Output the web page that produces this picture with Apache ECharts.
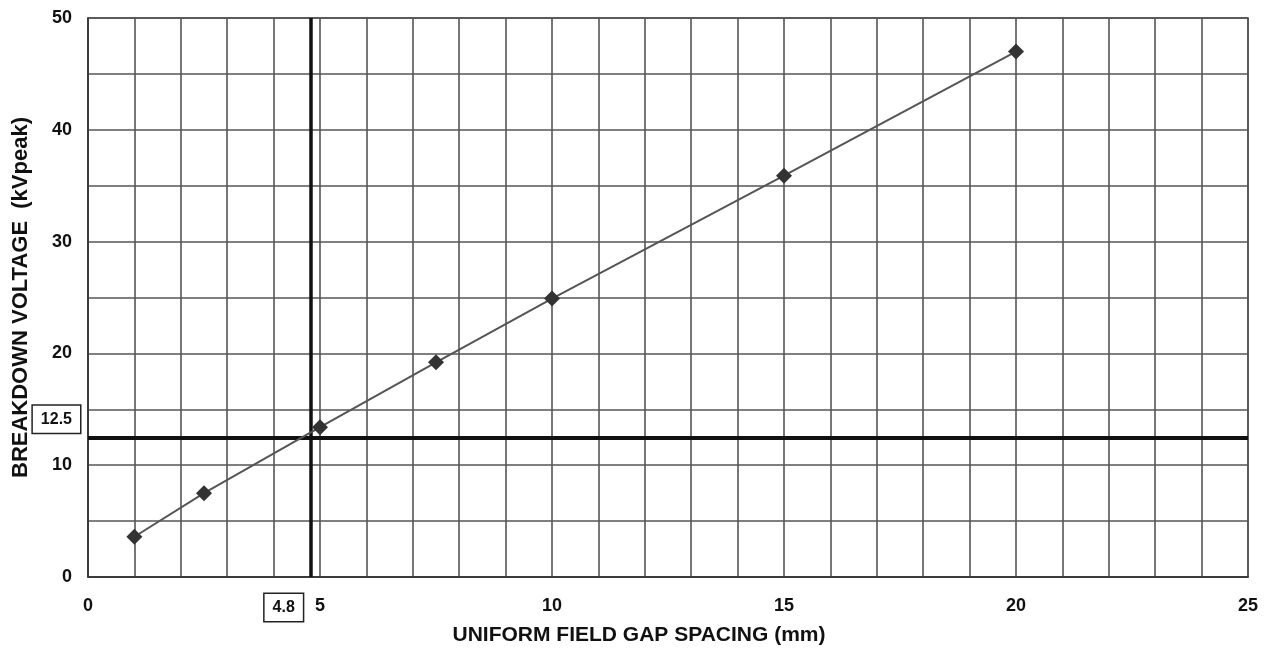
<!DOCTYPE html>
<html>
<head>
<meta charset="utf-8">
<script src="https://cdn.jsdelivr.net/npm/echarts@6/dist/echarts.min.js"></script>
<style>
  html, body { margin: 0; padding: 0; background: #fff; }
  #chart { width: 1273px; height: 653px; }
</style>
</head>
<body>
<div id="chart"></div>
<script>
// gap spacing (mm) and breakdown voltage (kVpeak)
const gapMm = [1, 2.5, 5, 7.5, 10, 15, 20];
const voltageKv = [3.6, 7.5, 13.4, 19.2, 24.9, 35.9, 47.0];

// reading lines drawn on the chart
const readVoltage = 12.5;
const readGap = 4.8;

const chart = echarts.init(document.getElementById('chart'));

const font = 'Liberation Sans, Arial, sans-serif';
const gridColor = '#555';

const boxLabel = {
  show: true,
  color: '#111',
  fontFamily: font,
  fontWeight: 'bold',
  fontSize: 16,
  backgroundColor: '#fff',
  borderColor: '#222',
  borderWidth: 1.5,
  padding: [6, 8, 5, 8]
};

const option = {
  animation: false,
  grid: {
    left: 88, right: 25, top: 18, bottom: 76,
    show: true, borderColor: '#444', borderWidth: 1.5
  },
  xAxis: {
    type: 'value',
    min: 0, max: 25, interval: 1,
    name: 'UNIFORM FIELD GAP SPACING (mm)',
    nameLocation: 'middle',
    nameGap: 48,
    nameTextStyle: { fontFamily: font, fontWeight: 'bold', fontSize: 21, color: '#111', padding: [0, 58, 0, 0] },
    axisLine: { show: true, lineStyle: { color: '#333', width: 1.5 } },
    axisTick: { show: false },
    axisLabel: {
      fontFamily: font, fontWeight: 'bold', fontSize: 18, color: '#111', margin: 20,
      formatter: v => (v % 5 === 0 ? String(v) : '')
    },
    splitLine: { show: true, lineStyle: { color: gridColor, width: 1.6 } }
  },
  yAxis: {
    type: 'value',
    min: 0, max: 50, interval: 5,
    name: 'BREAKDOWN VOLTAGE  (kVpeak)',
    nameLocation: 'middle',
    nameGap: 56,
    nameTextStyle: { fontFamily: font, fontWeight: 'bold', fontSize: 22, color: '#111', padding: [0, 0, 0, 0] },
    axisLine: { show: true, lineStyle: { color: '#333', width: 1.5 } },
    axisTick: { show: false },
    axisLabel: {
      fontFamily: font, fontWeight: 'bold', fontSize: 18, color: '#111', margin: 16,
      formatter: v => (v % 10 === 0 ? String(v) : '')
    },
    splitLine: { show: true, lineStyle: { color: gridColor, width: 1.6 } }
  },
  series: [
    {
      type: 'line',
      data: gapMm.map((g, i) => [g, voltageKv[i]]),
      symbol: 'diamond',
      symbolSize: 16,
      lineStyle: { color: '#555', width: 2 },
      itemStyle: { color: '#333' },
      z: 5,
      markLine: {
        silent: true,
        symbol: 'none',
        animation: false,
        data: [
          {
            yAxis: readVoltage,
            lineStyle: { color: '#111', width: 4, type: 'solid' },
            label: Object.assign({}, boxLabel, {
              position: 'start', distance: 8, offset: [0, -18],
              formatter: String(readVoltage)
            })
          },
          {
            xAxis: readGap,
            lineStyle: { color: '#111', width: 3.5, type: 'solid' },
            label: Object.assign({}, boxLabel, {
              position: 'start', distance: 17, offset: [-27, 0],
              formatter: String(readGap)
            })
          }
        ]
      }
    }
  ]
};

chart.setOption(option);
</script>
</body>
</html>
